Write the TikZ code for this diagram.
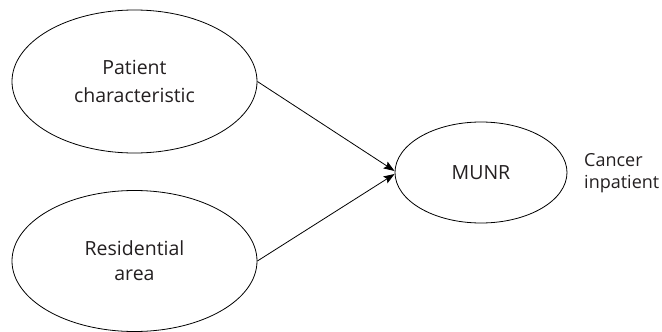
\documentclass[tikz,border=0pt]{standalone}
\usepackage{fontspec}
\setmainfont{Open Sans}
\usetikzlibrary{shapes.geometric,arrows.meta}
\definecolor{txt}{HTML}{231F20}
\begin{document}
\begin{tikzpicture}[x=1pt,y=-1pt,
  oval/.style={draw=black,line width=0.8pt,ellipse,inner sep=0pt,text=txt,align=center,
    font={\fontsize{19.5}{27}\selectfont}},
  conn/.style={draw=black,line width=0.8pt,-{Stealth[length=11pt,width=8pt,inset=2pt]}}]
\useasboundingbox (0,0) rectangle (662,332);
\node[oval,minimum width=245pt,minimum height=143pt,font={\fontsize{19.5}{28}\selectfont}] (pc) at (134.5,81.5) {Patient\\characteristic};
\node[oval,minimum width=245pt,minimum height=141pt,font={\fontsize{19.5}{25}\selectfont}] (ra) at (134.5,261) {Residential\\area};
\node[oval,minimum width=172pt,minimum height=101pt] (munr) at (481,172.5) {MUNR};
\node[anchor=west,align=left,text=txt,inner sep=0pt,font={\fontsize{18}{22}\selectfont}] (ci) at (584,173) {Cancer\\inpatient};
\draw[conn] (pc.east) -- ([yshift=1.5pt]munr.west);
\draw[conn] (ra.east) -- ([yshift=-1.5pt]munr.west);
\end{tikzpicture}
\end{document}
